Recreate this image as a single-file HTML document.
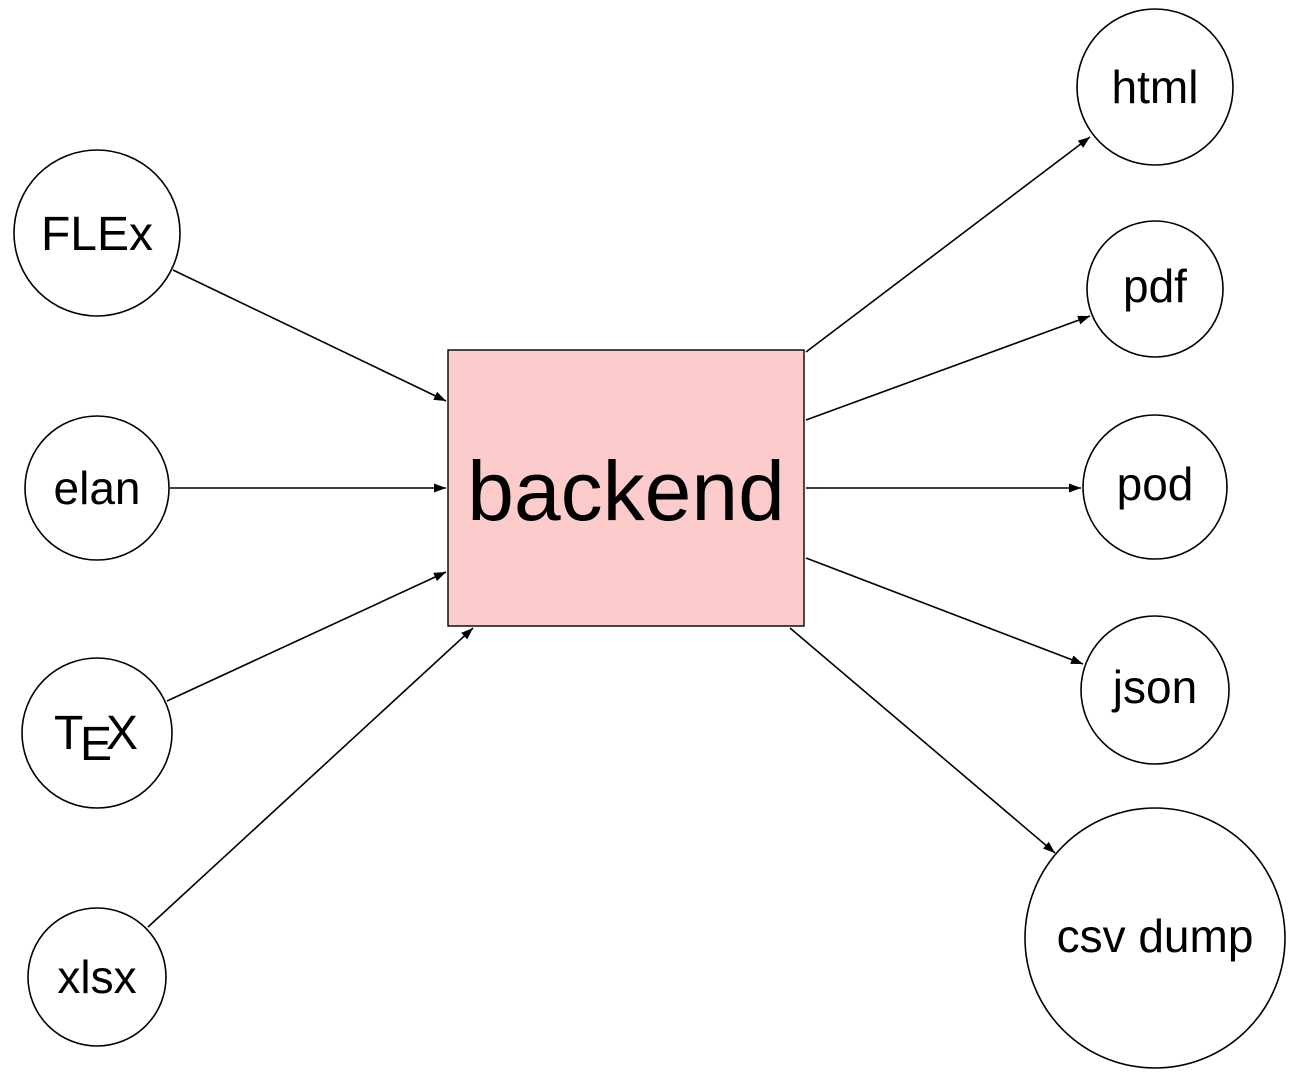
<!DOCTYPE html>
<html><head><meta charset="utf-8"><style>
html,body{margin:0;padding:0;background:#fff;}
svg{display:block;}
text{font-family:"Liberation Sans",sans-serif;fill:#000;}
</style></head><body>
<svg width="1306" height="1079" viewBox="0 0 1306 1079" xmlns="http://www.w3.org/2000/svg">
<defs>
<marker id="a" markerWidth="12" markerHeight="9" refX="12" refY="4.5" orient="auto" markerUnits="userSpaceOnUse">
<path d="M0,0 L12,4.5 L0,9 z" fill="#000"/>
</marker>
</defs>
<g fill="none" stroke="#000" stroke-width="1.6">
<circle cx="97" cy="233" r="83"/>
<circle cx="97" cy="488" r="72"/>
<circle cx="97" cy="733" r="75"/>
<circle cx="97" cy="977" r="69"/>
<circle cx="1155" cy="87" r="78"/>
<circle cx="1155" cy="289" r="68"/>
<circle cx="1155" cy="487" r="72"/>
<circle cx="1155" cy="690" r="74"/>
<circle cx="1155" cy="938" r="130"/>
</g>
<rect x="448" y="350" width="356" height="276" fill="#fccbcb" stroke="#000" stroke-width="1.4"/>
<g stroke="#000" stroke-width="1.6" marker-end="url(#a)">
<line x1="173" y1="270" x2="446" y2="401"/>
<line x1="170" y1="488" x2="446" y2="488"/>
<line x1="167" y1="701" x2="446" y2="572"/>
<line x1="148" y1="927" x2="473" y2="628"/>
<line x1="806" y1="352" x2="1090" y2="137"/>
<line x1="806" y1="420" x2="1090" y2="316"/>
<line x1="806" y1="488" x2="1081" y2="488"/>
<line x1="806" y1="558" x2="1083" y2="664"/>
<line x1="790" y1="628" x2="1055" y2="853"/>
</g>
<g font-size="46" text-anchor="middle">
<text x="97" y="250" font-size="48">FLEx</text>
<text x="97" y="504">elan</text>
<text x="1155" y="103">html</text>
<text x="1155" y="302">pdf</text>
<text x="1155" y="500">pod</text>
<text x="1155" y="703">json</text>
<text x="1155" y="952">csv dump</text>
<text x="97" y="993">xlsx</text>
</g>
<text x="54" y="749" font-size="48">T</text>
<text x="80" y="760" font-size="48">E</text>
<text x="106" y="749" font-size="48">X</text>
<text x="626" y="520" font-size="84" text-anchor="middle">backend</text>
</svg>
</body></html>
